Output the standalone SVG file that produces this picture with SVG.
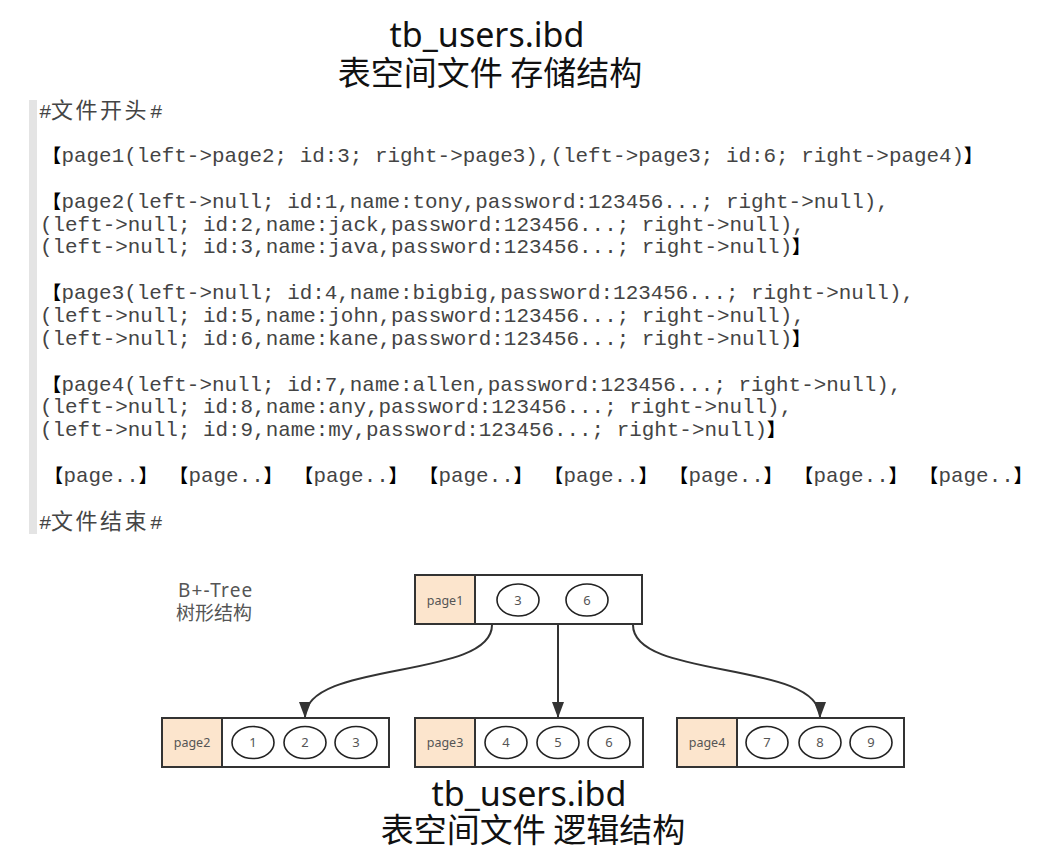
<svg xmlns="http://www.w3.org/2000/svg" width="1038" height="866" viewBox="0 0 1038 866">
<style>
.title{font-family:"Noto Sans","Noto Sans CJK SC",sans-serif;font-size:34px;fill:#111;text-anchor:middle}
.titlecjk{font-family:"Noto Sans CJK SC",sans-serif;font-size:33px;fill:#111;text-anchor:middle}
.code{font-family:"Liberation Mono","Courier New",monospace;font-size:20.9px;fill:#444}
.br{font-family:"Noto Sans CJK SC",sans-serif;font-weight:bold;font-size:18.5px;fill:#000}
.cjk{font-family:"Noto Sans CJK SC",sans-serif;font-size:22px;letter-spacing:2.5px;fill:#444}
.box{fill:#fff;stroke:#333;stroke-width:2}
.hdr{fill:#fce5cd;stroke:#333;stroke-width:2}
.key{fill:#fff;stroke:#222;stroke-width:1.6}
.lbl{font-family:"Noto Sans",sans-serif;font-size:12.5px;fill:#555;text-anchor:middle}
.num{font-family:"Noto Sans",sans-serif;font-size:13px;fill:#555;text-anchor:middle}
.note{font-family:"Noto Sans","Noto Sans CJK SC",sans-serif;font-size:19px;fill:#555}
.edge{fill:none;stroke:#333;stroke-width:2;marker-end:url(#arr)}
</style>
<defs>
<marker id="arr" markerUnits="userSpaceOnUse" markerWidth="16" markerHeight="12" viewBox="0 0 16 12" refX="15" refY="6" orient="auto">
<path d="M0,0 L16,6 L0,12 Z" fill="#333"/>
</marker>
</defs>
<rect width="1038" height="866" fill="#fff"/>

<g id="title-top">
<text class="title" x="487" y="47">tb_users.ibd</text>
<text class="titlecjk" x="490" y="85">表空间文件 存储结构</text>
</g>

<g id="file-listing">
<rect x="29" y="100" width="8" height="434" fill="#e4e4e4"/>
<text class="code" y="118"><tspan x="39">#</tspan><tspan x="51" class="cjk">文件开头</tspan><tspan x="150">#</tspan></text>

<text class="code" y="162"><tspan x="42.5" class="br">【</tspan><tspan x="61.5">page1(left-&gt;page2; id:3; right-&gt;page3),(left-&gt;page3; id:6; right-&gt;page4)</tspan><tspan x="964" class="br">】</tspan></text>

<text class="code" y="208"><tspan x="42.5" class="br">【</tspan><tspan x="61.5">page2(left-&gt;null; id:1,name:tony,password:123456...; right-&gt;null),</tspan></text>
<text class="code" x="40" y="231">(left-&gt;null; id:2,name:jack,password:123456...; right-&gt;null),</text>
<text class="code" y="253"><tspan x="40">(left-&gt;null; id:3,name:java,password:123456...; right-&gt;null)</tspan><tspan x="792" class="br">】</tspan></text>

<text class="code" y="299"><tspan x="42.5" class="br">【</tspan><tspan x="61.5">page3(left-&gt;null; id:4,name:bigbig,password:123456...; right-&gt;null),</tspan></text>
<text class="code" x="40" y="322">(left-&gt;null; id:5,name:john,password:123456...; right-&gt;null),</text>
<text class="code" y="345"><tspan x="40">(left-&gt;null; id:6,name:kane,password:123456...; right-&gt;null)</tspan><tspan x="792" class="br">】</tspan></text>

<text class="code" y="391"><tspan x="42.5" class="br">【</tspan><tspan x="61.5">page4(left-&gt;null; id:7,name:allen,password:123456...; right-&gt;null),</tspan></text>
<text class="code" x="40" y="413">(left-&gt;null; id:8,name:any,password:123456...; right-&gt;null),</text>
<text class="code" y="436"><tspan x="40">(left-&gt;null; id:9,name:my,password:123456...; right-&gt;null)</tspan><tspan x="767" class="br">】</tspan></text>

<text class="code" y="482"><tspan x="44.5" class="br">【</tspan><tspan x="63.5">page..</tspan><tspan x="138.7" class="br">】</tspan><tspan x="169.5" class="br">【</tspan><tspan x="188.5">page..</tspan><tspan x="263.7" class="br">】</tspan><tspan x="294.5" class="br">【</tspan><tspan x="313.5">page..</tspan><tspan x="388.7" class="br">】</tspan><tspan x="419.5" class="br">【</tspan><tspan x="438.5">page..</tspan><tspan x="513.7" class="br">】</tspan><tspan x="544.5" class="br">【</tspan><tspan x="563.5">page..</tspan><tspan x="638.7" class="br">】</tspan><tspan x="669.5" class="br">【</tspan><tspan x="688.5">page..</tspan><tspan x="763.7" class="br">】</tspan><tspan x="794.5" class="br">【</tspan><tspan x="813.5">page..</tspan><tspan x="888.7" class="br">】</tspan><tspan x="919.5" class="br">【</tspan><tspan x="938.5">page..</tspan><tspan x="1013.7" class="br">】</tspan></text>

<text class="code" y="529"><tspan x="39">#</tspan><tspan x="51" class="cjk">文件结束</tspan><tspan x="150">#</tspan></text>
</g>

<g id="tree-note">
<text class="note" x="178" y="597" letter-spacing="1.2">B+-Tree</text>
<text class="note" x="176" y="620" font-family="Noto Sans CJK SC, sans-serif">树形结构</text>
</g>

<g id="connectors">
<path class="edge" d="M492,625 C492,680 305,660 305,717"/>
<path class="edge" d="M558,625 L558,717"/>
<path class="edge" d="M633,625 C633,680 820,660 820,717"/>
</g>

<g id="page1">
<rect class="box" x="415" y="575" width="227" height="49"/>
<rect class="hdr" x="415" y="575" width="60" height="49"/>
<text class="lbl" x="445" y="604.5">page1</text>
<ellipse class="key" cx="518" cy="600" rx="21" ry="16"/>
<text class="num" x="518" y="604.5">3</text>
<ellipse class="key" cx="587" cy="600" rx="21" ry="16"/>
<text class="num" x="587" y="604.5">6</text>
</g>

<g id="page2">
<rect class="box" x="162" y="718" width="227" height="49"/>
<rect class="hdr" x="162" y="718" width="60" height="49"/>
<text class="lbl" x="192" y="747">page2</text>
<ellipse class="key" cx="253" cy="742.5" rx="21" ry="16"/>
<text class="num" x="253" y="747">1</text>
<ellipse class="key" cx="305" cy="742.5" rx="21" ry="16"/>
<text class="num" x="305" y="747">2</text>
<ellipse class="key" cx="356" cy="742.5" rx="21" ry="16"/>
<text class="num" x="356" y="747">3</text>
</g>

<g id="page3">
<rect class="box" x="415" y="718" width="228" height="49"/>
<rect class="hdr" x="415" y="718" width="60" height="49"/>
<text class="lbl" x="445" y="747">page3</text>
<ellipse class="key" cx="506" cy="742.5" rx="21" ry="16"/>
<text class="num" x="506" y="747">4</text>
<ellipse class="key" cx="558" cy="742.5" rx="21" ry="16"/>
<text class="num" x="558" y="747">5</text>
<ellipse class="key" cx="609" cy="742.5" rx="21" ry="16"/>
<text class="num" x="609" y="747">6</text>
</g>

<g id="page4">
<rect class="box" x="677" y="718" width="227" height="49"/>
<rect class="hdr" x="677" y="718" width="60" height="49"/>
<text class="lbl" x="707" y="747">page4</text>
<ellipse class="key" cx="767" cy="742.5" rx="21" ry="16"/>
<text class="num" x="767" y="747">7</text>
<ellipse class="key" cx="820" cy="742.5" rx="21" ry="16"/>
<text class="num" x="820" y="747">8</text>
<ellipse class="key" cx="871" cy="742.5" rx="21" ry="16"/>
<text class="num" x="871" y="747">9</text>
</g>

<g id="title-bottom">
<text class="title" x="529" y="806">tb_users.ibd</text>
<text class="titlecjk" x="533" y="842">表空间文件 逻辑结构</text>
</g>
</svg>
